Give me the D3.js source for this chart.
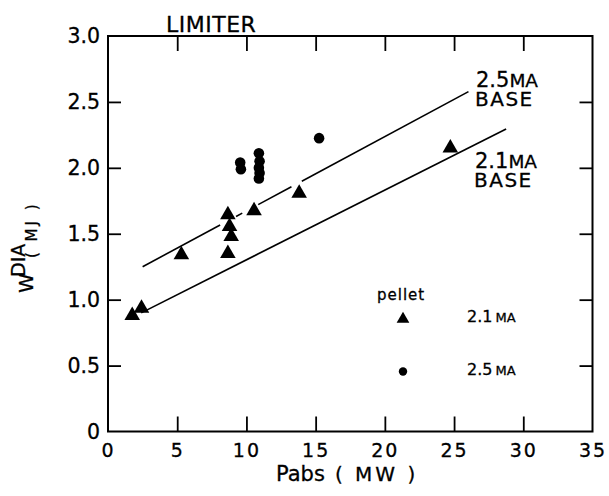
<!DOCTYPE html>
<html lang="en">
<head>
<meta charset="UTF-8">
<title>W DIA vs Pabs, limiter</title>
<style>
  body { margin: 0; background: #fff; }
  text { font-family: "DejaVu Sans", sans-serif; fill: #000; stroke: #000; stroke-width: 0.3; }
</style>
</head>
<body>
<script src="https://d3js.org/d3.v7.min.js"></script>
<script>
// pellet shots, 2.1 MA (triangles)
const tri21X = [1.75, 2.42, 5.3, 8.66, 8.9, 8.78, 8.66, 10.55, 13.81, 24.73];
const tri21Y = [0.88, 0.935, 1.34, 1.35, 1.48, 1.555, 1.645, 1.675, 1.807, 2.15];
// pellet shots, 2.5 MA (dots)
const dot25X = [9.55, 9.6, 10.9, 10.95, 10.9, 10.95, 10.9, 15.25];
const dot25Y = [2.04, 1.99, 2.11, 2.05, 2.0, 1.96, 1.92, 2.225];
// base scaling lines (end points) and the drawn pieces of the 2.5 MA one
const base25 = { x: [2.5, 26.04], y: [1.25, 2.578] };
const base25Pieces = [[2.5, 8.1], [9.25, 9.7], [10.85, 13.25], [14.0, 26.04]];
const base21 = { x: [2.4, 28.76], y: [0.9, 2.295] };
const xTicks = [0, 5, 10, 15, 20, 25, 30, 35];
const yTicks = [0, 0.5, 1.0, 1.5, 2.0, 2.5, 3.0];

const W = 609, H = 496;
const svg = d3.select("body").append("svg")
  .attr("width", W).attr("height", H);

const x = d3.scaleLinear().domain([0, 35]).range([108, 592.5]);
const y = d3.scaleLinear().domain([0, 3]).range([431.5, 36]);

// frame
svg.append("rect")
  .attr("x", x(0)).attr("y", y(3))
  .attr("width", x(35) - x(0)).attr("height", y(0) - y(3))
  .attr("fill", "none").attr("stroke", "#000").attr("stroke-width", 2);

function styleAxis(g, hideEnds) {
  g.select(".domain").remove();
  g.selectAll(".tick line").attr("stroke", "#000").attr("stroke-width", 1.8)
    .filter(hideEnds).remove();
}
const ends = (d, i, n) => i === 0 || i === n.length - 1;

svg.append("g")
  .attr("transform", `translate(0,${y(0)})`)
  .call(d3.axisBottom(x).tickValues(xTicks).tickSize(-15).tickPadding(12)
    .tickFormat(d3.format("d")))
  .call(g => styleAxis(g, ends))
  .call(g => g.selectAll("text").attr("font-size", 19).attr("letter-spacing", 2));

svg.append("g")
  .attr("transform", `translate(0,${y(3)})`)
  .call(d3.axisTop(x).tickValues(xTicks).tickSize(-15).tickFormat(""))
  .call(g => styleAxis(g, ends));

svg.append("g")
  .attr("transform", `translate(${x(0)},0)`)
  .call(d3.axisLeft(y).tickValues(yTicks).tickSize(-13).tickPadding(8)
    .tickFormat(d => d === 0 ? "0" : d3.format(".1f")(d)))
  .call(g => styleAxis(g, ends))
  .call(g => g.selectAll("text").attr("font-size", 20.5));

svg.append("g")
  .attr("transform", `translate(${x(35)},0)`)
  .call(d3.axisRight(y).tickValues(yTicks).tickSize(-13).tickFormat(""))
  .call(g => styleAxis(g, ends));

// base lines
const lineAt = (b, v) => b.y[0] + (v - b.x[0]) * (b.y[1] - b.y[0]) / (b.x[1] - b.x[0]);
const line = d3.line().x(d => x(d[0])).y(d => y(d[1]));

svg.append("g").selectAll("path")
  .data(base25Pieces)
  .join("path")
  .attr("d", p => line([[p[0], lineAt(base25, p[0])], [p[1], lineAt(base25, p[1])]]))
  .attr("fill", "none").attr("stroke", "#000").attr("stroke-width", 1.6);

svg.append("path")
  .attr("d", line(base21.x.map((v, i) => [v, base21.y[i]])))
  .attr("fill", "none").attr("stroke", "#000").attr("stroke-width", 1.6);

// points
const triangle = d3.symbol().type(d3.symbolTriangle).size(105);
svg.append("g").selectAll("path")
  .data(tri21X.map((v, i) => [v, tri21Y[i]]))
  .join("path")
  .attr("transform", d => `translate(${x(d[0])},${y(d[1])})`)
  .attr("d", triangle)
  .attr("fill", "#000");

svg.append("g").selectAll("circle")
  .data(dot25X.map((v, i) => [v, dot25Y[i]]))
  .join("circle")
  .attr("cx", d => x(d[0])).attr("cy", d => y(d[1]))
  .attr("r", 5.3)
  .attr("fill", "#000");

// title
svg.append("text").attr("x", 166).attr("y", 31.5)
  .attr("font-size", 22).attr("letter-spacing", 0.5).text("LIMITER");

// line labels, one text each (number + MA, then BASE underneath)
function twoLine(tx, ty, num) {
  const t = svg.append("text").attr("x", tx).attr("y", ty);
  t.append("tspan").attr("font-size", 21).text(num);
  t.append("tspan").attr("font-size", 18.5).text("MA");
  t.append("tspan").attr("x", tx - 1).attr("dy", 19)
    .attr("font-size", 20).attr("letter-spacing", 1.5).text("BASE");
}
twoLine(476, 86.5, "2.5");
twoLine(475, 168, "2.1");

// legend
svg.append("text").attr("x", 377).attr("y", 300)
  .attr("font-size", 15).attr("letter-spacing", 1).text("pellet");
svg.append("path")
  .attr("transform", "translate(403,319)")
  .attr("d", d3.symbol().type(d3.symbolTriangle).size(70))
  .attr("fill", "#000");
svg.append("circle").attr("cx", 403).attr("cy", 371.5).attr("r", 4.2).attr("fill", "#000");

function legendText(ty, num) {
  const t = svg.append("text").attr("x", 467).attr("y", ty);
  t.append("tspan").attr("font-size", 16).text(num);
  t.append("tspan").attr("font-size", 13).attr("dx", 3).text("MA");
}
legendText(321.5, "2.1");
legendText(375, "2.5");

// axis titles
const xt = svg.append("text").attr("x", 276).attr("y", 481);
xt.append("tspan").attr("font-size", 21).text("Pabs");
xt.append("tspan").attr("font-size", 20).attr("dx", 10).attr("letter-spacing", 3).text("( MW )");

const yt = svg.append("text").attr("transform", "translate(33,293) rotate(-90)");
yt.append("tspan").attr("x", 0).attr("y", 0).attr("font-size", 20).text("W");
yt.append("tspan").attr("x", 16).attr("y", -8).attr("font-size", 19).text("DIA");
yt.append("tspan").attr("x", 35).attr("y", 4).attr("font-size", 15)
  .attr("letter-spacing", 3).text("( MJ )");
</script>
</body>
</html>
